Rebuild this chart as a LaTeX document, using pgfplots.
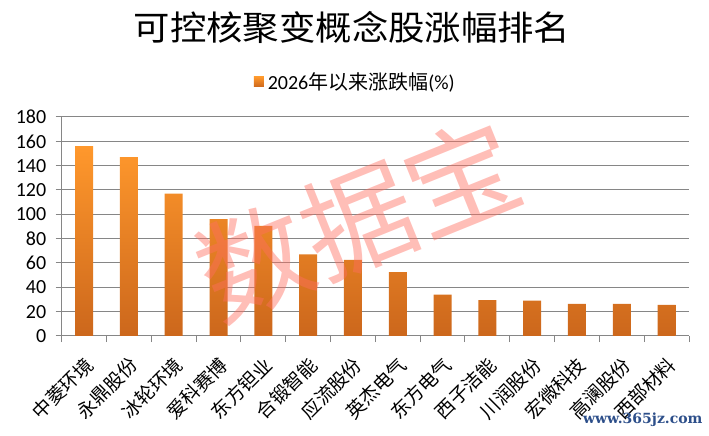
\documentclass[border=0pt]{standalone}
\usepackage{pgfplots}
\pgfplotsset{compat=1.18}
\usepackage{fontspec}
\setmainfont{Carlito}
\newfontfamily\cjk{Noto Sans CJK SC}
\newfontfamily\webfont{DejaVu Serif}
\definecolor{barTop}{HTML}{FF982C}
\definecolor{barBot}{HTML}{CC671C}
\definecolor{gridc}{HTML}{868686}
\definecolor{wmark}{HTML}{FF6E60}
\definecolor{webc}{HTML}{2D4F8A}
\begin{document}
\begin{tikzpicture}
\path[use as bounding box] (0,0) rectangle (709bp,436bp);
\begin{axis}[
  at={(61.7bp,100bp)}, anchor=south west,
  scale only axis, width=627.3bp, height=219bp,
  ybar, bar width=18bp,
  xmin=-0.5, xmax=13.5, ymin=0, ymax=180,
  ytick={0,20,...,180},
  xtick={-0.5,0.5,...,13.5},
  xticklabels={},
  extra x ticks={0,1,2,3,4,5,6,7,8,9,10,11,12,13},
  extra x tick labels={中菱环境,永鼎股份,冰轮环境,爱科赛博,东方钽业,合锻智能,应流股份,英杰电气,东方电气,西子洁能,川润股份,宏微科技,高澜股份,西部材料},
  extra x tick style={major tick length=0pt},
  x tick label style={font=\cjk\fontsize{19bp}{19bp}\selectfont, xshift=-1bp, yshift=-19bp, rotate=45, anchor=north east, inner sep=0pt},
  y tick label style={font=\fontsize{20bp}{20bp}\selectfont, xshift=-6bp},
  /pgf/number format/assume math mode=true,
  axis x line*=bottom, axis y line*=left,
  axis line style={gridc, line width=1bp, -},
  ymajorgrids, grid style={gridc, line width=1bp},
  major tick length=6bp,
  tick align=outside,
  tick style={gridc, line width=1bp},
  legend style={at={(0.468,1.16)}, anchor=center, draw=none, fill=none,
    font=\fontsize{20bp}{20bp}\selectfont},
  legend image code/.code={\shade[top color=barTop,bottom color=barBot] (0bp,-5bp) rectangle (10bp,5bp);},
]
\addplot[draw=none, top color=barTop, bottom color=barBot] coordinates {
(0,156) (1,147) (2,117) (3,96) (4,90.5) (5,67) (6,62.5) (7,52.5) (8,34) (9,29.5) (10,29) (11,26.5) (12,26.5) (13,25.5)
};
\addlegendentry{\hspace{2bp}2026{\cjk 年以来涨跌幅}(\%)}
\end{axis}
\node[font=\cjk\fontsize{34bp}{34bp}\selectfont] at (352bp,409bp) {\scalebox{1.07}[1]{可控核聚变概念股涨幅排名}};
\node[rotate=22, text=wmark, opacity=0.45, font=\cjk\fontsize{112bp}{112bp}\selectfont] at (358bp,216bp) {数据宝};
\node[anchor=south east, text=webc, font=\webfont\bfseries\fontsize{14bp}{14bp}\selectfont] at (706bp,6bp) {www.365jz.com};
\end{tikzpicture}
\end{document}
